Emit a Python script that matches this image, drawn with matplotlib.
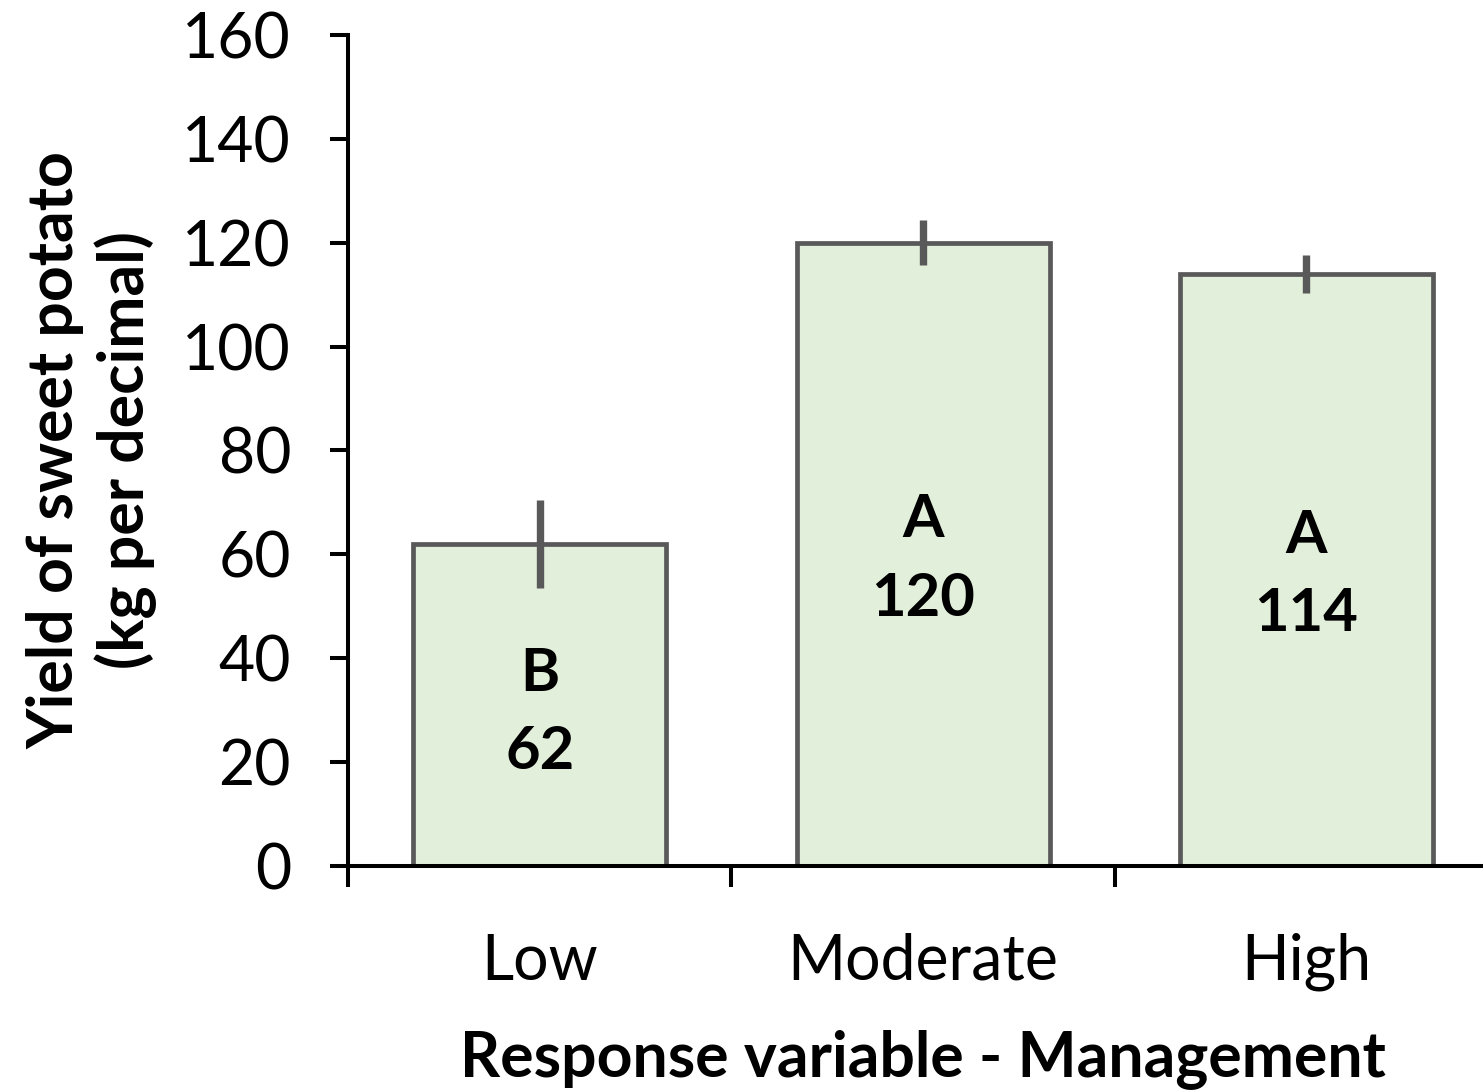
import numpy as np
import matplotlib
matplotlib.use('Agg')
import matplotlib.pyplot as plt

plt.rcParams['font.family'] = ['Lato', 'DejaVu Sans']
plt.rcParams['font.size'] = 45

# data
categories = ['Low', 'Moderate', 'High']
yields = [62, 120, 114]
errors = [8.5, 4.3, 3.6]
letters = ['B', 'A', 'A']
label_y = [29.5, 59, 56]  # where the in-bar labels sit

fill_col = '#E2EFDA'
edge_col = '#595959'

fig = plt.figure(figsize=(14.83, 10.9), dpi=100)
ax = fig.add_axes([0.2347, 0.2055, 0.7755, 0.7624])

x = np.arange(len(categories))
ax.bar(x, yields, width=0.66, color=fill_col, edgecolor=edge_col, linewidth=3.4, zorder=2)
ax.errorbar(x, yields, yerr=errors, fmt='none', ecolor=edge_col, elinewidth=5.3, capsize=0, zorder=3)

for xi, let, val, ly in zip(x, letters, yields, label_y):
    ax.text(xi, ly, f'{let}\n{val}', ha='center', va='center', fontsize=43,
            fontweight='bold', linespacing=1.55, zorder=4)

ax.set_xlim(-0.5, 2.5)
ax.set_ylim(0, 160)
ax.set_yticks(np.arange(0, 161, 20))
ax.set_xticks([-0.5, 0.5, 1.5, 2.5])
ax.set_xticklabels([])
ax.set_xticks(x, minor=True)
ax.set_xticklabels(categories, minor=True, fontsize=45)
ax.tick_params(axis='x', which='minor', length=0, pad=48)
ax.tick_params(axis='x', which='major', length=15, width=2.9, direction='out')
ax.tick_params(axis='y', length=13, width=2.9, direction='out', pad=28, labelsize=45)

for s in ['top', 'right']:
    ax.spines[s].set_visible(False)
for s in ['left', 'bottom']:
    ax.spines[s].set_linewidth(2.9)

ax.set_xlabel('Response variable - Management', fontweight='bold', fontsize=45, labelpad=27)
ax.set_ylabel('Yield of sweet potato\n(kg per decimal)', fontweight='bold', fontsize=45,
              labelpad=18, linespacing=1.2)

plt.savefig('out.png', dpi=100)
